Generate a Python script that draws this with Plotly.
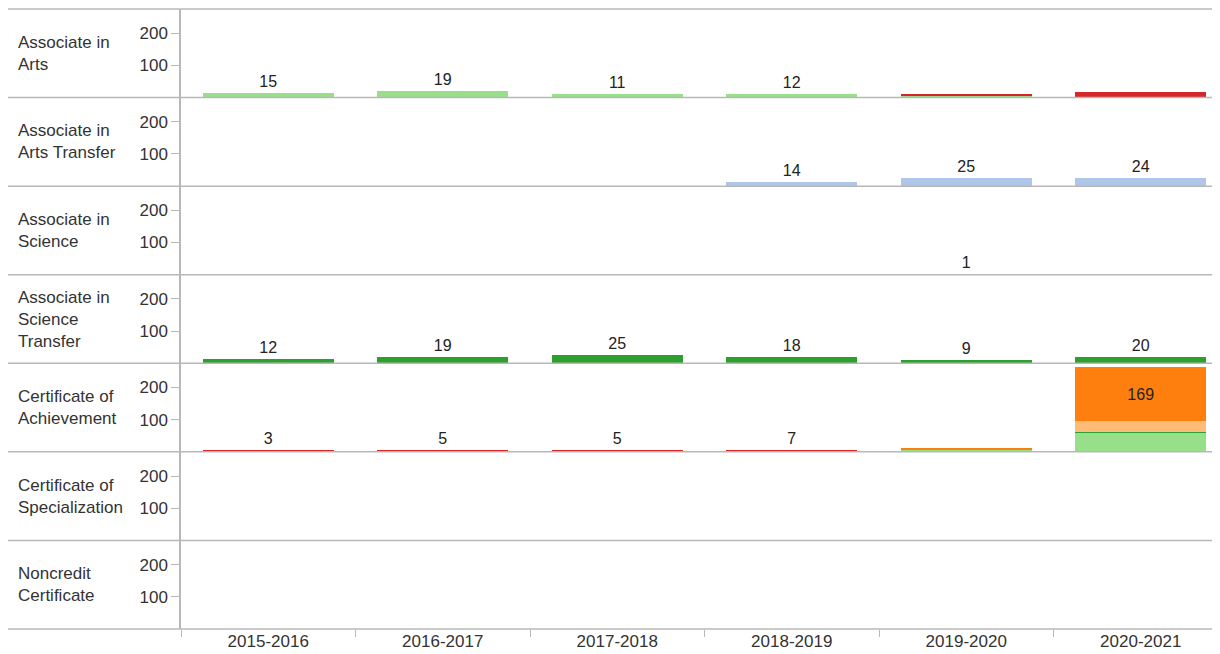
import plotly.graph_objects as go
from plotly.subplots import make_subplots

# academic years on the x axis
years = ['2015-2016', '2016-2017', '2017-2018', '2018-2019', '2019-2020', '2020-2021']

# award types, one row each
awards = ['Associate in<br>Arts', 'Associate in<br>Arts Transfer', 'Associate in<br>Science',
          'Associate in<br>Science<br>Transfer', 'Certificate of<br>Achievement',
          'Certificate of<br>Specialization', 'Noncredit<br>Certificate']

# awards per year, split by program (None = no awards)
aa_lightgreen = [15, 19, 11, 12, 5, None]
aa_red = [None, None, None, None, 3, 16]
aat_blue = [None, None, None, 14, 25, 24]
as_blue = [None, None, None, None, 1, None]
ast_green = [12, 19, 25, 18, 9, 20]
coa_red = [3, 5, 5, 7, None, None]
coa_lightgreen = [None, None, None, None, 5, 60]
coa_green = [None, None, None, None, None, 3]
coa_lightorange = [None, None, None, None, None, 32]
coa_orange = [None, None, None, None, 5, 169]
cos_none = [0, 0, 0, 0, 0, 0]
nc_none = [0, 0, 0, 0, 0, 0]

# which values get a number printed on the bar
aa_lightgreen_lbl = [True, True, True, True, False, False]
aat_blue_lbl = [False, False, False, True, True, True]
as_blue_lbl = [False, False, False, False, True, False]
ast_green_lbl = [True] * 6
coa_red_lbl = [True, True, True, True, False, False]
coa_orange_lbl = [False, False, False, False, False, True]
no_lbl = [False] * 6

GRID = '#b8b8b8'

# (row, color, values, label mask, text position)
segments = [
    (1, '#98df8a', aa_lightgreen, aa_lightgreen_lbl, 'outside'),
    (1, '#d62728', aa_red, no_lbl, 'outside'),
    (2, '#aec7e8', aat_blue, aat_blue_lbl, 'outside'),
    (3, '#aec7e8', as_blue, as_blue_lbl, 'outside'),
    (4, '#2ca02c', ast_green, ast_green_lbl, 'outside'),
    (5, '#d62728', coa_red, coa_red_lbl, 'outside'),
    (5, '#98df8a', coa_lightgreen, no_lbl, 'outside'),
    (5, '#2ca02c', coa_green, no_lbl, 'outside'),
    (5, '#ffbb78', coa_lightorange, no_lbl, 'outside'),
    (5, '#ff7f0e', coa_orange, coa_orange_lbl, 'inside'),
    (6, '#1f77b4', cos_none, no_lbl, 'outside'),
    (7, '#1f77b4', nc_none, no_lbl, 'outside'),
]

fig = make_subplots(rows=len(awards), cols=1, shared_xaxes=True, vertical_spacing=0)

for row, color, vals, lbl, pos in segments:
    text = [str(v) if (v is not None and show) else '' for v, show in zip(vals, lbl)]
    fig.add_trace(go.Bar(
        x=years, y=vals,
        marker=dict(color=color, line=dict(width=0)),
        text=text, textposition=pos, insidetextanchor='middle',
        textfont=dict(size=16, color='#222'),
        cliponaxis=False, showlegend=False, hoverinfo='skip'
    ), row=row, col=1)

# the page body adds 8px around the figure
W, H = 1212, 646
ML, MR, MT, MB = 173, 0, 1, 25
pw = W - ML - MR
px_per_cat = 174.5

for i in range(len(awards)):
    n = i + 1
    fig.update_yaxes(range=[0, 275], tickvals=[100, 200], ticks='outside', ticklen=8,
                     tickcolor=GRID, showgrid=False, zeroline=False, showline=True,
                     linecolor=GRID, linewidth=1.5, tickfont=dict(size=17, color='#333'),
                     row=n, col=1)
    fig.update_xaxes(range=[-0.5, -0.5 + pw / px_per_cat], showgrid=False, showline=False,
                     zeroline=False, tickson='boundaries',
                     ticks='outside' if n == len(awards) else '', ticklen=7, tickcolor=GRID,
                     tickfont=dict(size=17, color='#333'), row=n, col=1)
    fig.add_annotation(text=awards[i], xref='paper', yref=f'y{n if n > 1 else ""} domain',
                       x=(8 - ML) / pw, y=0.5, xanchor='left', yanchor='middle',
                       align='left', showarrow=False, font=dict(size=17, color='#333'))

# row separator lines across the full width
for i in range(len(awards) + 1):
    y = i / len(awards)
    fig.add_shape(type='line', xref='paper', yref='paper', x0=-ML / pw, x1=1,
                  y0=y, y1=y, line=dict(color=GRID, width=1.5))

fig.update_layout(
    width=W, height=H,
    margin=dict(l=ML, r=MR, t=MT, b=MB),
    barmode='stack', bargap=0.25,
    plot_bgcolor='white', paper_bgcolor='white',
    font=dict(family='Liberation Sans, Arial, sans-serif', size=17, color='#333'),
)

fig.write_html("out.html")
